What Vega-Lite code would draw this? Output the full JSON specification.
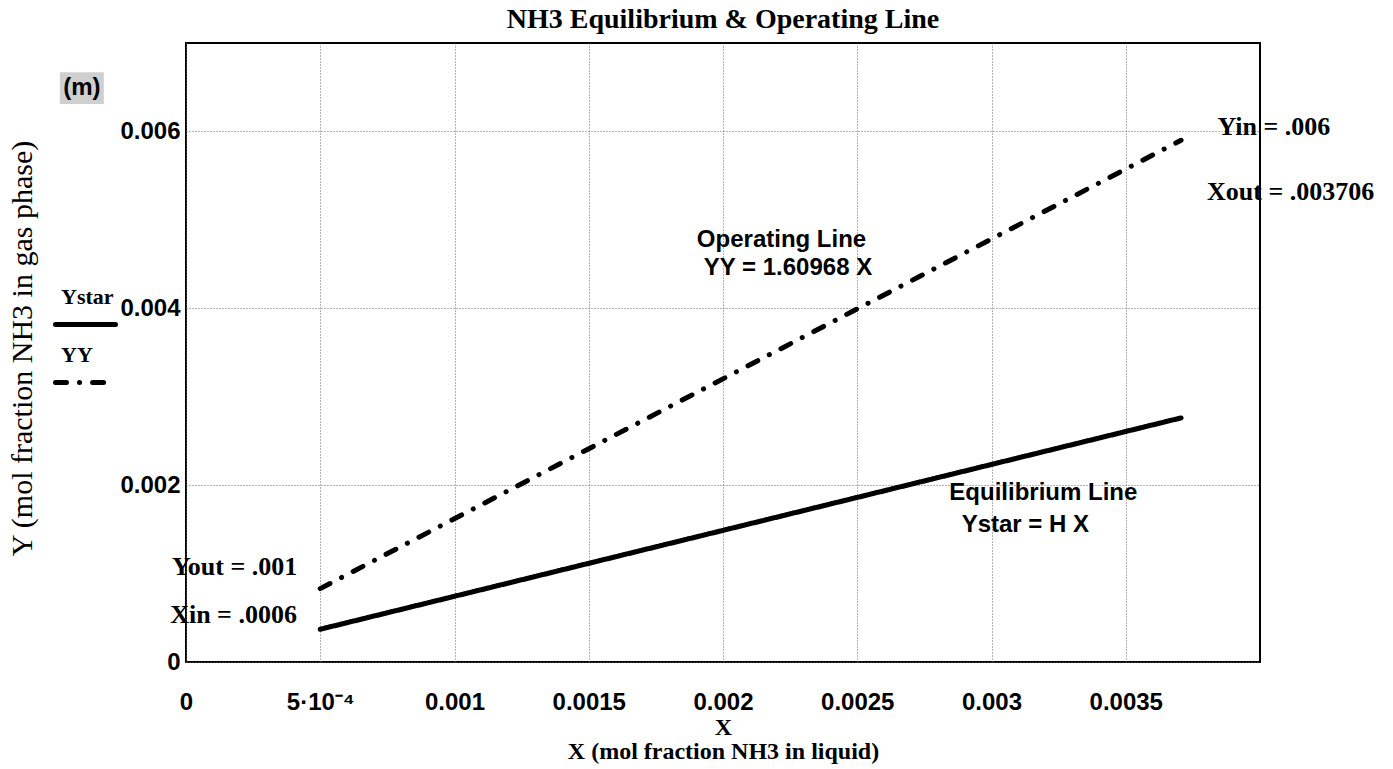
{
  "$schema": "https://vega.github.io/schema/vega-lite/v6.json",
  "width": 1074,
  "height": 619,
  "autosize": {"type": "none"},
  "padding": {"left": 186, "top": 43, "right": 133, "bottom": 107},
  "background": "white",
  "config": {
    "view": {"stroke": "black", "strokeWidth": 2},
    "axis": {
      "domain": false,
      "ticks": false,
      "grid": true,
      "gridColor": "#666666",
      "gridDash": [1, 2],
      "gridWidth": 1,
      "labelFont": "Liberation Sans",
      "labelFontWeight": "bold",
      "labelFontSize": 24,
      "labelColor": "black",
      "titleColor": "black"
    }
  },
  "title": {
    "text": "NH3 Equilibrium & Operating Line",
    "font": "Liberation Serif",
    "fontWeight": "bold",
    "fontSize": 28,
    "color": "black",
    "anchor": "middle",
    "frame": "group",
    "offset": 9
  },
  "datasets": {
    "lines": [
      {"series": "Ystar", "X": 0.0005, "Y": 0.00037},
      {"series": "Ystar", "X": 0.003706, "Y": 0.00276},
      {"series": "YY", "X": 0.0005, "Y": 0.00083},
      {"series": "YY", "X": 0.003706, "Y": 0.0059}
    ],
    "serifNotes": [
      {"label": "Yout = .001", "X": 0.000181, "Y": 0.000984},
      {"label": "Xin = .0006", "X": 0.000177, "Y": 0.000441},
      {"label": "Yin = .006", "X": 0.004052, "Y": 0.00596},
      {"label": "Xout = .003706", "X": 0.004114, "Y": 0.005224}
    ],
    "sansNotes": [
      {"label": "Operating Line", "X": 0.002218, "Y": 0.004693},
      {"label": "YY = 1.60968 X", "X": 0.002242, "Y": 0.004376},
      {"label": "Equilibrium Line", "X": 0.003193, "Y": 0.001832},
      {"label": "Ystar = H X", "X": 0.003126, "Y": 0.00147}
    ],
    "unitNote": [
      {"label": "(m)", "X": -0.000388, "Y": 0.00649}
    ]
  },
  "layer": [
    {
      "data": {"name": "lines"},
      "mark": {"type": "line", "strokeWidth": 5, "strokeCap": "round", "color": "black"},
      "encoding": {
        "x": {
          "field": "X",
          "type": "quantitative",
          "scale": {"domain": [0, 0.004], "nice": false, "zero": false},
          "axis": {
            "values": [0, 0.0005, 0.001, 0.0015, 0.002, 0.0025, 0.003, 0.0035],
            "labelExpr": "abs(datum.value - 0.0005) < 1e-9 ? '5·10⁻⁴' : format(datum.value, '~g')",
            "labelPadding": 28,
            "labelAlign": "center",
            "title": ["X", "X (mol fraction NH3 in liquid)"],
            "titleFont": "Liberation Serif",
            "titleFontWeight": "bold",
            "titleFontSize": 24,
            "titleLineHeight": 24,
            "titleBaseline": "alphabetic",
            "titleY": 72
          }
        },
        "y": {
          "field": "Y",
          "type": "quantitative",
          "scale": {"domain": [0, 0.007], "nice": false, "zero": false},
          "axis": {
            "values": [0, 0.002, 0.004, 0.006],
            "labelExpr": "format(datum.value, '~g')",
            "labelPadding": 6,
            "labelBaseline": "middle",
            "title": "Y (mol fraction NH3 in gas phase)",
            "titleFont": "Liberation Serif",
            "titleFontWeight": "normal",
            "titleFontSize": 30,
            "titleAngle": -90,
            "titleBaseline": "alphabetic",
            "titleAlign": "center",
            "titleX": -155,
            "titleY": 305
          }
        },
        "strokeDash": {
          "field": "series",
          "type": "nominal",
          "scale": {"domain": ["Ystar", "YY"], "range": [[1, 0], [11, 13, 0.1, 13]]},
          "legend": {
            "title": null,
            "orient": "none",
            "legendX": -133,
            "legendY": 249,
            "padding": 0,
            "rowPadding": 8,
            "symbolType": "stroke",
            "symbolSize": 3600,
            "symbolStrokeWidth": 5,
            "symbolStrokeColor": "black",
            "labelFont": "Liberation Serif",
            "labelFontWeight": "bold",
            "labelFontSize": 22,
            "labelColor": "black",
            "labelOffset": -57,
            "labelBaseline": "alphabetic",
            "encode": {
              "labels": {"update": {"dy": {"value": -21}}},
              "symbols": {"update": {"strokeCap": {"value": "round"}}}
            }
          }
        }
      }
    },
    {
      "data": {"name": "unitNote"},
      "mark": {"type": "point", "shape": "M-1,-0.72L1,-0.72L1,0.72L-1,0.72Z", "size": 1936, "filled": true, "color": "#cfcfcf", "opacity": 1},
      "encoding": {
        "x": {"field": "X", "type": "quantitative"},
        "y": {"field": "Y", "type": "quantitative"}
      }
    },
    {
      "data": {"name": "unitNote"},
      "mark": {"type": "text", "font": "Liberation Sans", "fontWeight": "bold", "fontSize": 24, "color": "black", "align": "center", "baseline": "middle"},
      "encoding": {
        "x": {"field": "X", "type": "quantitative"},
        "y": {"field": "Y", "type": "quantitative"},
        "text": {"field": "label"}
      }
    },
    {
      "data": {"name": "serifNotes"},
      "mark": {"type": "text", "font": "Liberation Serif", "fontWeight": "bold", "fontSize": 26, "color": "black", "align": "center", "baseline": "alphabetic"},
      "encoding": {
        "x": {"field": "X", "type": "quantitative"},
        "y": {"field": "Y", "type": "quantitative"},
        "text": {"field": "label"}
      }
    },
    {
      "data": {"name": "sansNotes"},
      "mark": {"type": "text", "font": "Liberation Sans", "fontWeight": "bold", "fontSize": 24, "color": "black", "align": "center", "baseline": "alphabetic"},
      "encoding": {
        "x": {"field": "X", "type": "quantitative"},
        "y": {"field": "Y", "type": "quantitative"},
        "text": {"field": "label"}
      }
    }
  ]
}
